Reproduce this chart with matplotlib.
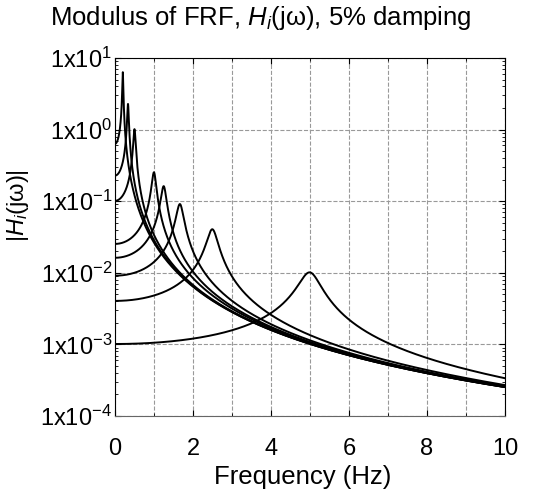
import numpy as np
import matplotlib.pyplot as plt
from matplotlib.ticker import FuncFormatter, LogLocator, MultipleLocator

plt.rcParams['font.family'] = ['Liberation Sans', 'DejaVu Sans']
plt.rcParams['mathtext.fontset'] = 'custom'
plt.rcParams['mathtext.rm'] = 'Liberation Sans'
plt.rcParams['mathtext.it'] = 'Liberation Sans:italic'

# natural frequencies (Hz) of the single-dof systems, read from the peaks
natural_freqs = [5.0, 2.5, 5 / 3, 1.25, 1.0, 0.5, 1 / 3, 0.2]
damping = 0.05
x_ticks = [0, 2, 4, 6, 8, 10]
y_decades = [-4, -3, -2, -1, 0, 1]

f = np.linspace(0, 10, 4001)
w = 2 * np.pi * f

fig = plt.figure(figsize=(5.36, 4.99), dpi=100)
ax = fig.add_axes([0.2146, 0.1663, 0.7276, 0.7175])

for fn in natural_freqs:
    wn = 2 * np.pi * fn
    H = 1 / np.sqrt((wn**2 - w**2)**2 + (2 * damping * wn * w)**2)
    ax.plot(f, H, color='black', lw=1.4)

ax.set_yscale('log')
ax.set_xlim(0, 10)
ax.set_ylim(1e-4, 1e1)
ax.set_xticks(x_ticks)
ax.xaxis.set_minor_locator(MultipleLocator(1))
ax.set_yticks([10.0**d for d in y_decades])
ax.yaxis.set_minor_locator(LogLocator(base=10, subs=np.arange(2, 10)))
ax.yaxis.set_major_formatter(FuncFormatter(lambda v, p: '1x10$^{%d}$' % round(np.log10(v))))

ax.grid(True, which='major', axis='y', ls='--', color='#999999', lw=0.8)
ax.grid(True, which='both', axis='x', ls='--', color='#999999', lw=0.8)
ax.tick_params(which='both', direction='in', top=True, right=True, labelsize=17)
ax.tick_params(which='major', length=4)
ax.tick_params(which='minor', length=2.5)
ax.tick_params(axis='x', which='major', pad=16)
ax.tick_params(axis='y', which='major', pad=2)
ax.spines['bottom'].set_color('#666666')

ax.set_xlabel('Frequency (Hz)', fontsize=18.5)
ax.xaxis.set_label_coords(0.482, -0.137)
ax.set_ylabel(r'|$\mathit{H}_{\mathit{i}}$(jω)|', fontsize=17)
ax.yaxis.set_label_coords(-0.215, 0.587)
fig.text(0.487, 1 - 18 / 499, r'Modulus of FRF, $\mathit{H}_{\mathit{i}}$(jω), 5% damping',
         fontsize=18.5, ha='center', va='center')

plt.savefig('out.png')
